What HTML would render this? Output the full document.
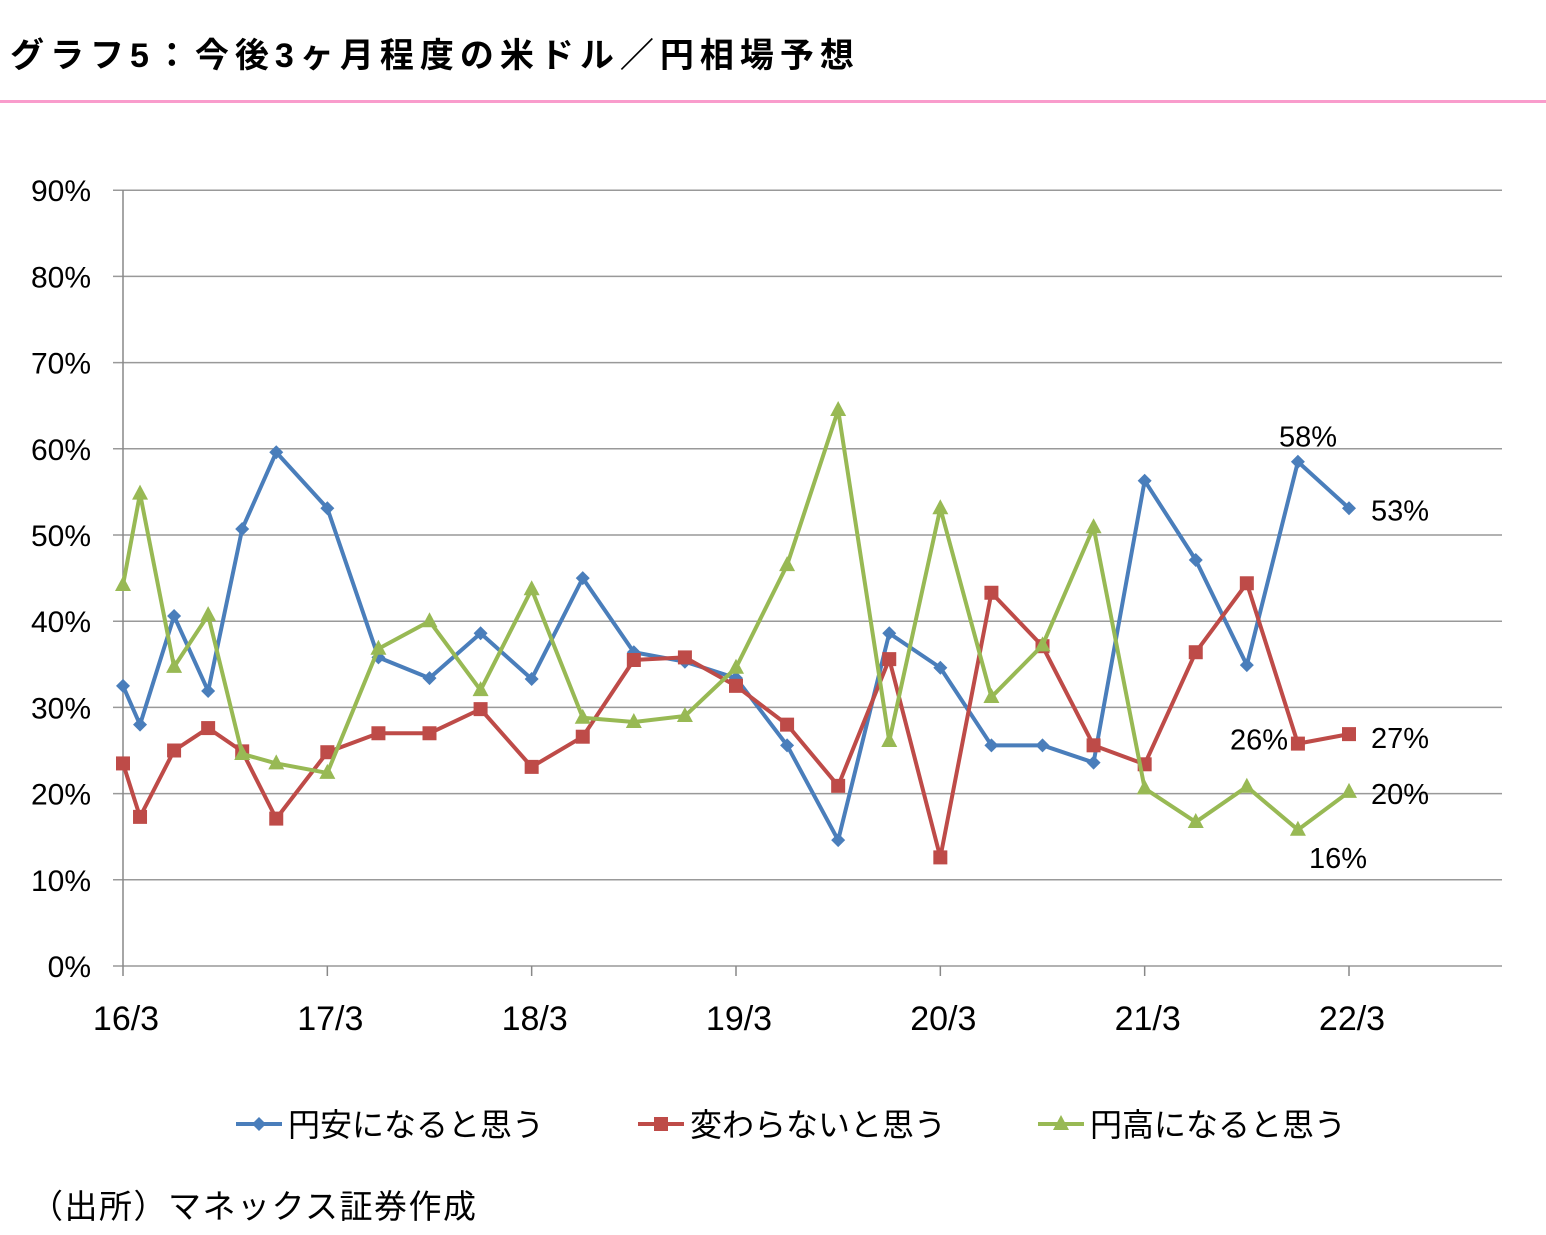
<!DOCTYPE html>
<html><head><meta charset="utf-8">
<style>
body{margin:0;background:#fff;width:1546px;height:1230px;overflow:hidden;font-family:"Liberation Sans","Noto Sans CJK JP",sans-serif;}
svg text{font-family:"Liberation Sans","Noto Sans CJK JP",sans-serif;}
</style></head><body>
<svg id="chart" width="1546" height="1230" xmlns="http://www.w3.org/2000/svg">
<text x="10" y="67" font-size="34" font-weight="bold" fill="#000" letter-spacing="6">グラフ5：今後3ヶ月程度の米ドル／円相場予想</text>
<rect x="0" y="100" width="1546" height="3" fill="#f99ccc"/>
<g id="grid"></g><g id="series"></g>
<text x="30" y="1218" font-size="33" fill="#000" letter-spacing="1.5">（出所）マネックス証券作成</text>
</svg>
<script>
const months=[0,1,3,5,7,9,12,15,18,21,24,27,30,33,36,39,42,45,48,51,54,57,60,63,66,69,72];
const yenWeak=[32.5,28,40.6,31.9,50.7,59.6,53.1,35.8,33.4,38.6,33.3,45,36.4,35.3,33.4,25.6,14.6,38.6,34.6,25.6,25.6,23.6,56.3,47.1,34.9,58.5,53.1];
const noChange=[23.5,17.3,25,27.6,24.9,17.1,24.8,27,27,29.8,23.1,26.6,35.5,35.8,32.5,28,20.9,35.6,12.6,43.3,37.1,25.6,23.4,36.4,44.4,25.8,26.9];
const yenStrong=[44.2,54.8,34.7,40.7,24.6,23.5,22.4,36.8,40,32,43.7,28.8,28.3,29,34.6,46.5,64.5,26.1,53.1,31.2,37.2,50.9,20.6,16.7,20.8,15.8,20.2];
const yTicks=[0,10,20,30,40,50,60,70,80,90];
const xLabels=["16/3","17/3","18/3","19/3","20/3","21/3","22/3"];
const xLabelMonths=[0,12,24,36,48,60,72];
const annTexts=["58%","53%","27%","26%","20%","16%"];
const NS="http://www.w3.org/2000/svg";
const X=m=>123+m*(1226/72), Y=v=>966-v*8.62;
function mk(t,a,p){const e=document.createElementNS(NS,t);for(const k in a)e.setAttribute(k,a[k]);p.appendChild(e);return e;}
const g=document.getElementById('grid'), s=document.getElementById('series');
yTicks.forEach(v=>{
 const l=mk('line',{x1:113,x2:1502,y1:Y(v),y2:Y(v),stroke:'#999','stroke-width':1.5},g);
 
 
 const t=mk('text',{x:91,y:Y(v)+11,'font-size':30,'text-anchor':'end',fill:'#000'},g);t.textContent=v+'%';
 
 
});
const ax=mk('line',{x1:123,x2:123,y1:190,y2:966,stroke:'#888','stroke-width':1.5},g);


xLabels.forEach((lb,i)=>{
 const x=X(xLabelMonths[i]);
 mk('line',{x1:x,x2:x,y1:966,y2:976,stroke:'#888','stroke-width':1.5},g);
 const t=mk('text',{x:x+3,y:1030,'font-size':34,'text-anchor':'middle',fill:'#000'},g);t.textContent=lb;
 
 
});
function marker(type,x,y,c){
 if(type==='d')return mk('polygon',{points:`${x},${y-7} ${x+7},${y} ${x},${y+7} ${x-7},${y}`,fill:c},s);
 if(type==='s')return mk('rect',{x:x-7,y:y-7,width:14,height:14,fill:c},s);
 return mk('polygon',{points:`${x},${y-9} ${x+8},${y+6} ${x-8},${y+6}`,fill:c},s);
}
const series=[[yenWeak,'#4a7ebb','d','yen-weak'],[noChange,'#be4b48','s','no-change'],[yenStrong,'#98b954','t','yen-strong']];
series.forEach(([vals,c,m,n])=>{
 const p=mk('polyline',{points:vals.map((v,i)=>X(months[i])+','+Y(v)).join(' '),fill:'none',stroke:c,'stroke-width':4,'stroke-linejoin':'round'},s);
 
 
 vals.forEach((v,i)=>{const e=marker(m,X(months[i]),Y(v),c);
  
  });
});
const ann=[[1308,yenWeak[25],-15,'middle'],[1371,yenWeak[26],12,'start'],[1371,noChange[26],14,'start'],[1288,noChange[25],6,'end'],[1371,yenStrong[26],12,'start'],[1338,yenStrong[25],38,'middle']];
ann.forEach((a,i)=>{const t=mk('text',{x:a[0],y:Y(a[1])+a[2],'font-size':29,'text-anchor':a[3],fill:'#000'},s);
 t.textContent=annTexts[i];
 
 });
const leg=[['円安になると思う',236,'d','#4a7ebb'],['変わらないと思う',638,'s','#be4b48'],['円高になると思う',1038,'t','#98b954']];
leg.forEach(([txt,x,m,c])=>{
 const l=mk('line',{x1:x,x2:x+46,y1:1124,y2:1124,stroke:c,'stroke-width':4},s);
 
 
 marker(m,x+23,1124,c);
 const t=mk('text',{x:x+52,y:1136,'font-size':32,fill:'#000'},s);t.textContent=txt;
 
 
});
</script>
</body></html>
